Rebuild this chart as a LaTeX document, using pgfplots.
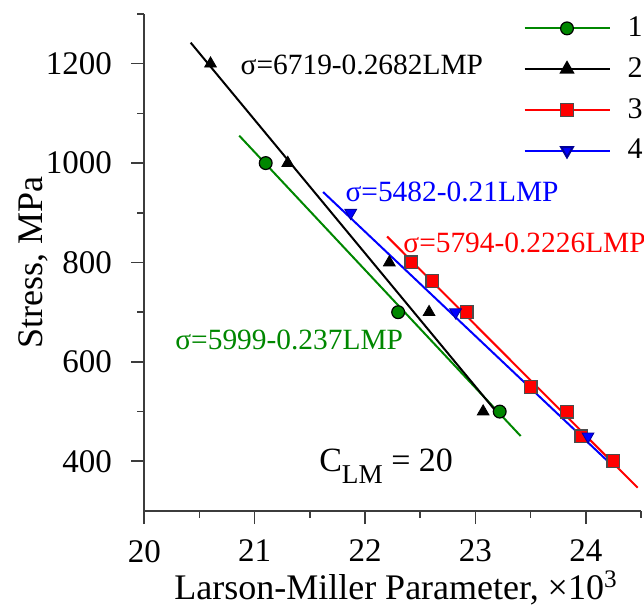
\documentclass[border=0pt]{standalone}
\usepackage{fontspec}
\setmainfont{Liberation Serif}
\usepackage{pgfplots}
\pgfplotsset{compat=1.18}
\definecolor{cgreen}{RGB}{0,135,0}
\definecolor{cred}{RGB}{255,0,0}
\definecolor{cblue}{RGB}{0,0,255}
\definecolor{caxis}{RGB}{60,60,60}
\begin{document}
\begin{tikzpicture}
\begin{axis}[
 scale only axis, width=248.35pt, height=248.5pt,
 xmin=20, xmax=24.5, ymin=300, ymax=1300,
 axis x line*=bottom, axis y line*=left,
 axis line style={caxis, line width=0.8pt, -},
 xtick={20,21,22,23,24}, ytick={400,600,800,1000,1200},
 xticklabels={20,21,22,23,24}, yticklabels={400,600,800,1000,1200},
 minor xtick={20.5,21.5,22.5,23.5,24.5}, minor ytick={500,700,900,1100,1300},
 tick align=outside,
 major tick length=6.5pt, minor tick length=3.5pt,
 tick style={caxis, line width=0.8pt},
 xticklabel shift=4.5pt, yticklabel shift=6.2pt,
 tick label style={font=\fontsize{16.5}{18}\selectfont},
 xlabel={Larson-Miller Parameter, ×10\textsuperscript{3}},
 ylabel={Stress, MPa},
 label style={font=\fontsize{18}{20}\selectfont},
 xlabel style={at={(axis description cs:0.5067,-0.179)}, anchor=base},
 ylabel style={at={(axis description cs:-0.2054,0.5)}, anchor=base},
 clip=false,
 legend image code/.code={\draw[mark repeat=2,mark phase=2,#1] plot coordinates {(0pt,0pt) (21.25pt,0pt) (42.5pt,0pt)};},
 legend style={at={(axis cs:23.432,1294.8)}, anchor=north west, draw=none, fill=none,
   inner sep=0pt, row sep=8.95pt, font=\fontsize{15}{15}\selectfont,
   nodes={inner sep=0pt},
   /tikz/every odd column/.append style={column sep=8.5pt}},
 legend cell align=left,
]
% legend
\addlegendimage{cgreen, line width=1pt, mark=*, mark size=3.2pt, mark options={fill=cgreen, draw=black, line width=0.6pt}}
\addlegendentry{1}
\addlegendimage{black, line width=1pt, mark=triangle*, mark size=3.4pt, mark options={fill=black, draw=black}}
\addlegendentry{2}
\addlegendimage{cred, line width=1pt, mark=square*, mark size=3.2pt, mark options={fill=cred, draw=black!70, line width=0.6pt}}
\addlegendentry{3}
\addlegendimage{cblue, line width=1pt, mark=triangle*, mark size=3.4pt, mark options={fill=cblue, draw=cblue!60!black, rotate=180}}
\addlegendentry{4}

% series 1
\addplot[cgreen, line width=1pt, forget plot] coordinates {(20.86,1055.2) (23.41,450.8)};
\addplot[only marks, mark=*, mark size=3.2pt, mark options={fill=cgreen, draw=black, line width=0.6pt}, forget plot]
 coordinates {(21.10,1000) (22.30,700) (23.22,500)};
% series 2
\addplot[black, line width=1pt, forget plot] coordinates {(20.42,1242.4) (23.20,496.8)};
\addplot[only marks, mark=triangle*, mark size=3.4pt, mark options={fill=black, draw=black}, forget plot]
 coordinates {(20.60,1200) (21.30,1000) (22.22,800) (22.58,700) (23.07,500)};
% series 3
\addplot[cred, line width=1pt, forget plot] coordinates {(22.20,852.3) (24.47,347.0)};
\addplot[only marks, mark=square*, mark size=3.2pt, mark options={fill=cred, draw=black!70, line width=0.6pt}, forget plot]
 coordinates {(22.42,800) (22.61,763) (22.92,700) (23.50,550) (23.83,500) (23.96,450) (24.25,400)};
% series 4
\addplot[cblue, line width=1pt, forget plot] coordinates {(21.62,941.8) (24.25,389.5)};
\addplot[only marks, mark=triangle*, mark size=3.4pt, mark options={fill=cblue, draw=cblue!60!black, rotate=180}, forget plot]
 coordinates {(21.87,900) (22.82,700) (24.02,450)};

\node[anchor=west, inner sep=0pt, font=\fontsize{14.7}{16}\selectfont] at (axis cs:20.87,1197) {σ=6719-0.2682LMP};
\node[anchor=west, inner sep=0pt, font=\fontsize{14.7}{16}\selectfont, text=cblue] at (axis cs:21.82,942) {σ=5482-0.21LMP};
\node[anchor=west, inner sep=0pt, font=\fontsize{14.7}{16}\selectfont, text=cred] at (axis cs:22.344,839) {σ=5794-0.2226LMP};
\node[anchor=west, inner sep=0pt, font=\fontsize{14.7}{16}\selectfont, text=cgreen] at (axis cs:20.278,645) {σ=5999-0.237LMP};
\node[anchor=base west, inner sep=0pt, font=\fontsize{17}{20}\selectfont] at (axis cs:21.582,380) {C\raisebox{-6pt}{\fontsize{13.6}{14}\selectfont LM} = 20};
\end{axis}
\pgfresetboundingbox
\path (-72.15pt,-50pt) rectangle (249.85pt,255.5pt);
\end{tikzpicture}
\end{document}
